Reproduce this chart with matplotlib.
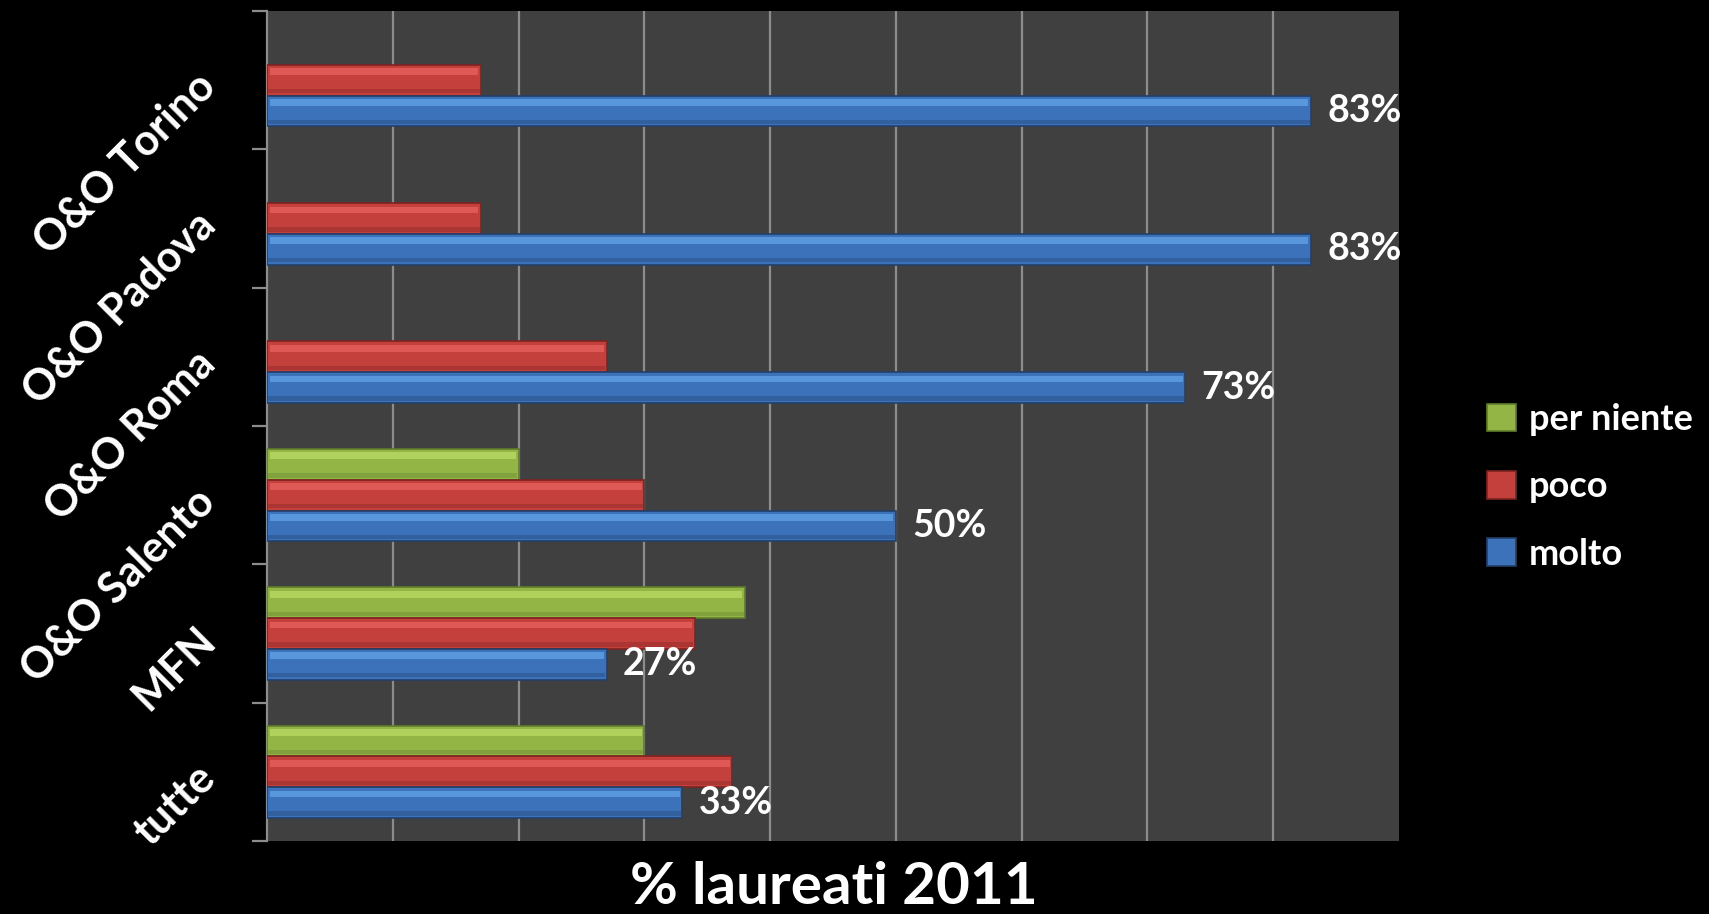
import matplotlib.pyplot as plt
import numpy as np

# categories bottom -> top
categories = ["tutte", "MFN", "O&O Salento", "O&O Roma", "O&O Padova", "O&O Torino"]
per_niente = [30, 38, 20, 0, 0, 0]
poco = [37, 34, 30, 27, 17, 17]
molto = [33, 27, 50, 73, 83, 83]
molto_labels = ["33%", "27%", "50%", "73%", "83%", "83%"]

series = [
    # name, values, main colour, highlight, edge, offset
    ("per niente", per_niente, "#93b545", "#c6e46e", "#5f7d2a", 1),
    ("poco", poco, "#c4403d", "#f26b6a", "#7e2321", 0),
    ("molto", molto, "#3b72ba", "#6cb0f2", "#243f6a", -1),
]

FONT = "Lato"
bar_h = 1 / 4.5

fig = plt.figure(figsize=(17.09, 9.14), dpi=100, facecolor="black")
ax = fig.add_axes([267 / 1709, 1 - 841 / 914, (1399 - 267) / 1709, (841 - 11) / 914])
ax.set_facecolor("#404040")

y = np.arange(len(categories))
handles = []
for name, vals, col, hi, edge, off in series:
    vals = np.array(vals, dtype=float)
    pos = y + off * bar_h
    mask = vals > 0
    b = ax.barh(pos[mask], vals[mask], height=bar_h, color=col, edgecolor=edge,
                linewidth=1.2, zorder=3, label=name)
    # light strip along the top for a bevelled look
    ax.barh(pos[mask] + bar_h * 0.28, vals[mask] - 0.4, height=bar_h * 0.22, left=0.2,
            color=hi, alpha=0.6, linewidth=0, zorder=4)
    # darker band along the bottom
    ax.barh(pos[mask] - bar_h * 0.36, vals[mask] - 0.2, height=bar_h * 0.14, left=0.1,
            color=edge, alpha=0.35, linewidth=0, zorder=4)
    handles.append(b)

for yi, v, lab in zip(y, molto, molto_labels):
    ax.text(v + 1.3, yi - bar_h, lab, color="white", fontsize=27, fontweight="bold",
            family=FONT, va="center", ha="left", zorder=5)

ax.set_xlim(0, 90)
ax.set_ylim(-0.5, len(categories) - 0.5)
ax.set_xticks(np.arange(10, 90, 10))
ax.tick_params(axis="x", length=0, labelbottom=False)
ax.grid(axis="x", color="#8c8c8c", linewidth=1.6, zorder=1)

ax.set_yticks(y)
ax.set_yticklabels(categories)
ax.set_yticks(np.arange(-0.5, len(categories), 1), minor=True)
ax.tick_params(axis="y", which="major", length=0, pad=42)
ax.tick_params(axis="y", which="minor", length=11, width=1.6, color="#8c8c8c")
for t in ax.get_yticklabels():
    t.set_rotation(45)
    t.set_rotation_mode("anchor")
    t.set_ha("right")
    t.set_va("center")
    t.set_color("white")
    t.set_fontsize(31)
    t.set_fontweight("bold")
    t.set_family(FONT)

for s in ["top", "right", "bottom"]:
    ax.spines[s].set_visible(False)
ax.spines["left"].set_color("#8c8c8c")
ax.spines["left"].set_linewidth(1.6)

fig.text(834 / 1709, 1 - 887 / 914, "% laureati 2011", color="white", fontsize=42,
         fontweight="bold", family=FONT, ha="center", va="center")

leg = fig.legend(handles=handles, labels=[s[0] for s in series],
                 loc="center left", bbox_to_anchor=(1487 / 1709, 1 - 487 / 914),
                 frameon=False, labelcolor="white", handlelength=0.8, handleheight=0.8,
                 handletextpad=0.35, labelspacing=0.95, borderpad=0, borderaxespad=0,
                 prop={"family": FONT, "weight": "bold", "size": 26})

fig.savefig("out.png", dpi=100, facecolor="black")
